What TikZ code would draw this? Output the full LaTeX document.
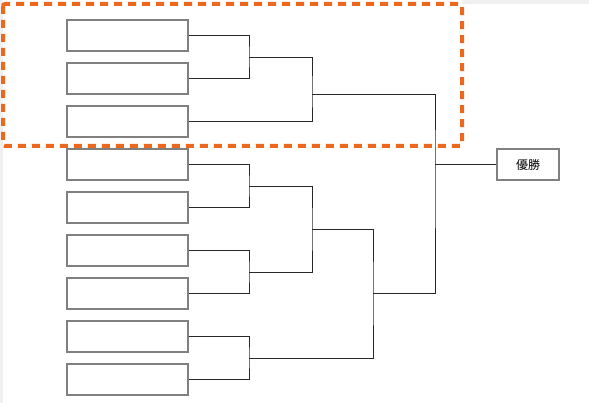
\documentclass[tikz,border=0pt]{standalone}
\usepackage{fontspec}
\newfontfamily\cjk{Noto Sans CJK JP}
\usetikzlibrary{positioning}
\definecolor{marker}{RGB}{236,104,30}
\definecolor{boxline}{RGB}{128,128,128}
\definecolor{wireline}{RGB}{40,40,40}

\begin{document}
\begin{tikzpicture}[x=1pt, y=-1pt,
            slot/.style={draw=boxline, line width=1.2pt, minimum width=121pt, minimum height=31pt,
                        inner sep=0pt, fill=white},
            wire/.style={draw=wireline, line width=0.9pt},
            winbox/.style={slot, minimum width=62pt, font=\cjk\fontsize{12}{14}\selectfont},
            focus/.style={draw=marker, line width=4pt, dash pattern=on 8pt off 6pt, rounded corners=2pt}]

            \useasboundingbox (0,0) rectangle (589,403);
            \fill[white] (0,0) rectangle (589,403);
            % window edge of the screenshot
            \fill[gray!12] (0,0) rectangle (3,403);
            \fill[gray!12] (462,0) rectangle (589,4);

            % highlighted block
            \draw[focus] (3,4) rectangle (462,146);

            % entry slots
            \foreach \i in {1,...,9}
                \node[slot] (p\i) at (127.5, {35.5+43*(\i-1)}) {};
            \node[winbox] (win) at (528,164.5) {優勝};

            % joints of the bracket
            \coordinate (j1) at (249,57);
            \coordinate (j2) at (249,186);
            \coordinate (j3) at (249,272);
            \coordinate (j4) at (249,358);
            \coordinate (k1) at (312,94);
            \coordinate (k2) at (312,229);
            \coordinate (c1) at (373,293);
            \coordinate (m1) at (435,164.5);

            % first round
            \draw[wire] (p1.east) -| (j1) |- (p2.east);
            \draw[wire] (p4.east) -| (j2) |- (p5.east);
            \draw[wire] (p6.east) -| (j3) |- (p7.east);
            \draw[wire] (p8.east) -| (j4) |- (p9.east);

            % later rounds
            \draw[wire] (j1) -| (k1) |- (p3.east);
            \draw[wire] (j2) -| (k2) |- (j3);
            \draw[wire] (k2) -| (c1) |- (j4);
            \draw[wire] (k1) -| (m1) |- (c1);
            \draw[wire] (m1) -- (win.west);
        \end{tikzpicture}
\end{document}
